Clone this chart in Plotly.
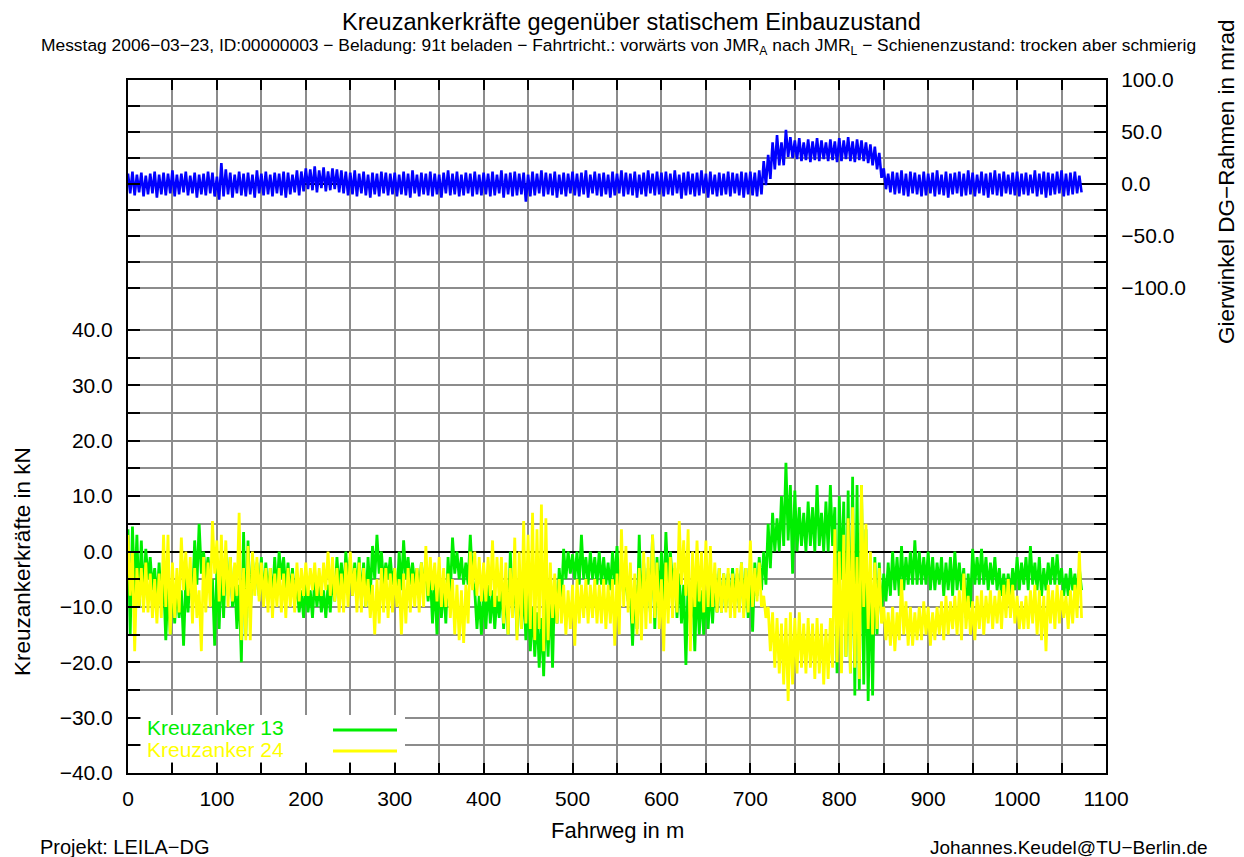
import plotly.graph_objects as go

# ---------------- data (5 m bins: upper / lower envelope) ----------------
BIN_M = 5.0  # width of one bin in metres

k13_hi = [4, 4.5, 3, 2, 0.5, -1, -3, -2, -5, -6, -5, -6, -7, -5, -4, 2, 5, 0, -1, -5,
          -3, -2, 0, -1, -5, -6, 3.5, 2, -1, -2, -1, -2, -3, -1, 0, -1, -2, -3, -6, -7,
          -6, -7, -5, -6, -7, -6, -4, -1, -2, 0, -1, -2, -1, -2, -1, 1, 3, 0, -2, -1,
          -3, 0, 2, -1, -2, -3, -2, -3, -4, -5, -5, -6, -1, 2.5, 0, -1, -2, 3, -7, -8,
          -7, -6, -7, -8, -6, -6, 0, -5, -5, -6, -8, -10, -11, -12, -8, -7, -5, -3, 0.5, 0,
          -0.5, 0, 3, -1, 0, -1, 0, -1, -2, 0, 1, -3, -4, -7, -6, 3, -2, -3, 3, -1,
          0, 3.5, 0, -3, -4, -6, -5, -6, -5, -7, -7, -6, -4, -3, -4, -4, -3, -4, -2, -3,
          -2, -2, -1, 0, 5, 7, 6, 10, 16, 12, 11, 8, 7, 9, 8, 12, 7, 9, 12, 8,
          10, 9, 11, 13.5, 12, 12, 4, -3, -1, -2, -4, -2, 0, -1, 1, -1, 0, 2, 0, -1,
          0, -1, -2, -1, -2, -1, 0, -2, -3, -4, 0.5, -1, 0.5, -1, -2, -1, -3, -4, -4, -3,
          -1, -2, -1, 1, -2, -1, -3, -2, -1, -0.5, -3, -4, -3, -4, -3]
k13_lo = [-15, -8, -10, -9, -5, -7, -9, -10, -16, -15, -13, -12, -17, -11, -9, -6, -4, -5, -6, -17,
          -14, -12, -8, -10, -14, -20, -15, -12, -7, -8, -9, -8, -9, -8, -5, -7, -8, -9, -11, -12,
          -11, -12, -10, -11, -12, -11, -9, -7, -8, -6, -8, -7, -9, -10, -8, -5, -4, -6, -5, -6,
          -9, -7, -5, -6, -6, -7, -6, -9, -13, -15, -12, -13, -8, -4, -5, -6, -6, -5, -14, -15,
          -14, -13, -14, -12, -14, -15, -10, -15, -14, -16, -18, -19, -21, -22.5, -19, -21, -13, -9, -5, -4,
          -5, -6, -5, -6, -5, -6, -6, -6, -7, -6, -7, -8, -9, -17, -14, -12, -10, -11, -14, -9,
          -9, -6, -6, -12, -13, -20.5, -13, -18, -15, -15, -14, -13, -11, -11, -10, -10, -9, -10, -11, -12,
          -14.5, -8, -7, -6, -3, 0, 0, 1, 2, -4, 0, 1, 0, 1, 0, 1, 0, 0, 1, -22,
          -5, -19, -22, -26, -25, -24, -27, -26, -15, -12, -9, -8, -7, -8, -7, -6, -6, -6, -6, -6,
          -7, -7, -6, -8, -7, -8, -7, -7, -12, -10, -6, -6, -6, -7, -6, -7, -8, -8, -8, -7,
          -7, -6, -7, -6, -7, -8, -7, -6, -6, -6, -8, -8, -7, -8, -7]

k24_hi = [3, 0, -3, -3, -2, -4, -5, -4, 3, 3, -2, -3, 2.5, 0, -1, -3, -7, -1, -2, 5.5,
          2, 3, 2, -1, -2, 7, -3, 1, 0, -1, -2, -3, -3, -4, -3, -4, -3, -4, -2, -3,
          -2, -3, -2, -3, -2, 0, -1, -3, -4, -2, 0, -3, -2, -3, -5, -6, -5, -3, -3, -4,
          -3, -5, -4, -3, -4, -3, -2, 1, -1, -2, -1, -3, -4, -5, -6, -7, -6, 0, 0, -1,
          -2, -1, 2, -1, -1, -2, -3, 2.5, 0, 5.5, 3, 7, 4, 8.5, 6, -2, -4, -5, -6, -7,
          -6, -5, -6, -5, -6, -5, -6, -5, -6, -5, -4, 4, 1, -2, -4, -3, 0, -1, 3, -2,
          -5, -2, -1, -2, 5.5, 2, 4, 0, 2, 0, 2, 1, -2, -3, -4, -3, -4, -3, -2, -3,
          2, -3, -2, -8, -10, -11, -12, -13, -12, -11, -12, -11, -13, -12, -13, -12, -13, -14, -12, 4,
          0, 3, 6, 8, -1, 12, 5, 0, -2, -3, -10, -11, -10, -11, -5, -9, -10, -11, -10, -9,
          -10, -11, -10, -9, -8, -9, -8, -7, -4, -8, -9, -8, -7, -8, -7, -8, -7, -6, -5, -6,
          -8, -9, -8, -7, -6, -7, -8, -6, -7, -6, -7, -8, -7, -6, 0]
k24_lo = [-8, -18, -10, -11, -11, -12, -13, -12, -10, -15, -12, -11, -7, -8, -13, -12, -18, -11, -10, -4,
          -9, -8, -10, -9, -8, -16, -16, -16, -8, -9, -10, -11, -12, -10, -11, -12, -10, -11, -9, -8,
          -8, -7, -8, -8, -7, -8, -9, -11, -11, -10, -8, -11, -11, -10, -12, -15, -13, -11, -12, -11,
          -10, -15, -13, -11, -10, -11, -10, -8, -7, -9, -10, -10, -12, -15, -16, -16.5, -13, -7, -8, -9,
          -9, -8, -10, -9, -13, -15, -12, -16, -14, -13, -14, -16, -14, -18, -16, -12, -13, -13, -15, -14,
          -17, -13, -12, -13, -12, -13, -13, -14, -13, -17, -15, -10, -11, -13, -15, -16, -14, -13, -12, -14,
          -18, -13, -12, -11, -6, -8, -18, -10, -9, -11, -10, -10, -11, -11, -11, -12, -12, -11, -12, -11,
          -10, -9, -10, -12, -18, -21, -22, -24, -27, -24, -22, -21, -22, -21, -23, -22, -24, -23, -21, -20,
          -22, -19, -22, -21, -23, -10, -14, -15, -14, -13, -16, -17, -18, -16, -15, -17, -17, -16, -16, -15,
          -17, -16, -15, -16, -15, -14, -15, -16, -14, -15, -16, -14, -15, -13, -14, -13, -14, -12, -12, -13,
          -14, -14, -14, -13, -15, -16, -18, -13, -14, -13, -12, -14, -13, -12, -12]

gier_hi = [10, 12, 9, 11, 8, 10, 12, 9, 11, 10, 13, 9, 10, 12, 8, 11, 9, 10, 12, 11,
           7, 20, 14, 11, 9, 12, 10, 11, 9, 13, 10, 12, 9, 11, 10, 12, 11, 9, 13, 12,
           15, 14, 17, 13, 16, 12, 15, 14, 13, 12, 11, 13, 10, 12, 9, 11, 10, 12, 11, 10,
           11, 9, 12, 10, 13, 9, 11, 10, 12, 10, 9, 11, 13, 10, 12, 9, 11, 10, 12, 9,
           11, 10, 12, 9, 13, 10, 11, 12, 10, 11, 9, 12, 10, 13, 11, 10, 12, 9, 11, 10,
           12, 10, 11, 13, 9, 12, 10, 11, 9, 12, 10, 13, 11, 10, 12, 9, 11, 13, 10, 12,
           11, 12, 10, 13, 9, 11, 12, 10, 11, 13, 10, 12, 9, 11, 10, 12, 11, 10, 12, 11,
           12, 11, 13, 22, 28, 40, 47, 40, 52, 45, 42, 44, 40, 43, 41, 44, 42, 40, 43, 41,
           44, 42, 45, 41, 43, 42, 40, 38, 36, 30, 15, 10, 12, 11, 13, 10, 12, 11, 9, 12,
           10, 11, 13, 9, 12, 10, 11, 12, 10, 13, 11, 9, 12, 10, 11, 13, 10, 12, 9, 11,
           12, 10, 11, 9, 13, 10, 12, 11, 10, 12, 13, 10, 11, 12, 8]
gier_lo = [-9, -11, -8, -12, -10, -9, -13, -10, -11, -9, -12, -10, -8, -11, -9, -13, -10, -11, -9, -12,
           -15, -12, -10, -13, -9, -11, -12, -10, -13, -9, -11, -10, -12, -9, -11, -13, -10, -8, -11, -7,
           -5, -6, -8, -4, -7, -6, -5, -8, -9, -11, -10, -12, -9, -11, -13, -10, -12, -9, -11, -10,
           -12, -10, -11, -13, -9, -12, -10, -11, -12, -10, -13, -9, -11, -10, -12, -11, -9, -12, -10, -11,
           -10, -12, -11, -9, -13, -10, -12, -11, -10, -17, -12, -11, -9, -12, -10, -11, -13, -10, -12, -9,
           -11, -12, -10, -13, -9, -11, -12, -10, -13, -11, -9, -12, -10, -11, -13, -10, -12, -9, -11, -10,
           -12, -10, -11, -9, -14, -11, -10, -12, -11, -9, -13, -10, -12, -11, -10, -12, -9, -11, -13, -10,
           -11, -12, -10, -1, 5, 14, 18, 18, 26, 25, 24, 22, 23, 21, 23, 22, 24, 22, 23, 21,
           22, 24, 22, 21, 23, 22, 20, 18, 14, 6, -5, -8, -10, -9, -11, -12, -9, -10, -12, -11,
           -9, -12, -10, -11, -13, -10, -9, -12, -11, -10, -12, -9, -11, -13, -10, -11, -12, -9, -10, -11,
           -12, -10, -11, -9, -12, -10, -13, -11, -10, -9, -12, -11, -10, -9, -8]

x_ticks = list(range(0, 1101, 50))
kn_ticks = list(range(-40, 41, 5))
mrad_ticks = list(range(-100, 101, 25))

series_names = ["Kreuzanker 13", "Kreuzanker 24"]
TITLE = "Kreuzankerkräfte gegenüber statischem Einbauzustand"
SUBTITLE = ("Messtag 2006−03−23, ID:00000003 − Beladung: 91t beladen − Fahrtricht.: vorwärts von "
            "JMR<sub>A</sub> nach JMR<sub>L</sub> − Schienenzustand: trocken aber schmierig")

# ---------------- helpers ----------------
FONT = "Liberation Sans, Arial, sans-serif"
GREEN, YELLOW, BLUE = "#00ee00", "#ffff00", "#0000ff"
GRID = "#8c8c8c"


def zigzag(hi, lo):
    xs, ys = [], []
    for i, (h, l) in enumerate(zip(hi, lo)):
        xs += [i * BIN_M, i * BIN_M + BIN_M / 2]
        ys += [h, l]
    return xs, ys


def fmt(v):
    s = f"{abs(v):.1f}"
    return ("−" + s) if v < 0 else s


W, H = 1244, 857
L, R, T, B = 128, 1106, 80, 773
KN_PER_PX = 80 / (B - 330)       # -40 kN at y=773, 40 kN at y=330
MRAD_PER_PX = 100 / (184 - 80)   # 0 mrad at y=184, 100 mrad at y=80


def px(x):
    return (x - L) / (R - L)


def py(y):
    return (B - y) / (B - T)


fig = go.Figure()
gx, gy = zigzag(gier_hi, gier_lo)
fig.add_trace(go.Scatter(x=gx, y=gy, mode="lines", yaxis="y2", line=dict(color=BLUE, width=2.6),
                         showlegend=False, hoverinfo="skip"))
x13, y13 = zigzag(k13_hi, k13_lo)
fig.add_trace(go.Scatter(x=x13, y=y13, mode="lines", name=series_names[0],
                         line=dict(color=GREEN, width=2.8), showlegend=False, hoverinfo="skip"))
x24, y24 = zigzag(k24_hi, k24_lo)
fig.add_trace(go.Scatter(x=x24, y=y24, mode="lines", name=series_names[1],
                         line=dict(color=YELLOW, width=2.8), showlegend=False, hoverinfo="skip"))

tickfont = dict(family=FONT, size=21, color="black")
fig.update_layout(
    width=W, height=H,
    margin=dict(l=L, r=W - R, t=T, b=H - B, pad=0),
    paper_bgcolor="white", plot_bgcolor="white",
    font=dict(family=FONT, color="black"),
    hovermode=False,
    xaxis=dict(range=[0, 1100], tickvals=x_ticks,
               ticktext=[str(v) if v % 100 == 0 else "" for v in x_ticks],
               ticks="inside", ticklen=10, tickwidth=1.5, tickcolor="black",
               showline=True, linecolor="black", linewidth=2, mirror="ticks",
               showgrid=True, gridcolor=GRID, gridwidth=1.5, zeroline=False,
               tickfont=tickfont, ticklabelstandoff=6),
    yaxis=dict(range=[-40, -40 + (B - T) * KN_PER_PX], tickvals=kn_ticks,
               ticktext=[fmt(v) if v % 10 == 0 else "" for v in kn_ticks],
               ticks="inside", ticklen=12, tickwidth=1.5, tickcolor="black",
               showline=True, linecolor="black", linewidth=2, mirror="ticks",
               showgrid=True, gridcolor=GRID, gridwidth=1.5,
               zeroline=True, zerolinecolor="black", zerolinewidth=2,
               tickfont=tickfont, ticklabelstandoff=9),
    yaxis2=dict(overlaying="y", side="right", range=[100 - (B - T) * MRAD_PER_PX, 100],
                tickvals=mrad_ticks,
                ticktext=[fmt(v) if v % 50 == 0 else "" for v in mrad_ticks],
                ticks="inside", ticklen=12, tickwidth=1.5, tickcolor="black",
                showline=True, linecolor="black", linewidth=2, mirror="ticks",
                showgrid=True, gridcolor=GRID, gridwidth=1.5,
                zeroline=True, zerolinecolor="black", zerolinewidth=2,
                tickfont=tickfont, ticklabelstandoff=9),
)

ann = []


def text(x, y, s, size=18, color="black", xanchor="center", angle=0):
    ann.append(dict(x=px(x), y=py(y), xref="paper", yref="paper", text=s, showarrow=False,
                    xanchor=xanchor, yanchor="middle", textangle=angle,
                    font=dict(family=FONT, size=size, color=color)))


text(631, 22, TITLE, size=23.5)
text(618, 47, SUBTITLE, size=17.4)
text(22, 562, "Kreuzankerkräfte in kN", size=22.5, angle=-90)
text(1226, 182, "Gierwinkel DG−Rahmen in mrad", size=22.5, angle=-90)
text(617, 830, "Fahrweg in m", size=22)
text(38, 847, "Projekt: LEILA−DG", size=20, xanchor="left")
text(1210, 847, "Johannes.Keudel@TU−Berlin.de", size=19, xanchor="right")
text(145, 727, series_names[0], size=21, color=GREEN, xanchor="left")
text(145, 749, series_names[1], size=21, color=YELLOW, xanchor="left")
fig.update_layout(annotations=ann)

shapes = [
    dict(type="rect", xref="paper", yref="paper", x0=px(141), x1=px(405), y0=py(762), y1=py(715),
         fillcolor="white", line=dict(width=0), layer="above"),
    dict(type="line", xref="paper", yref="paper", x0=px(333), x1=px(397), y0=py(730), y1=py(730),
         line=dict(color=GREEN, width=3), layer="above"),
    dict(type="line", xref="paper", yref="paper", x0=px(333), x1=px(397), y0=py(751), y1=py(751),
         line=dict(color=YELLOW, width=3), layer="above"),
]
fig.update_layout(shapes=shapes)

fig.write_html("out.html")
